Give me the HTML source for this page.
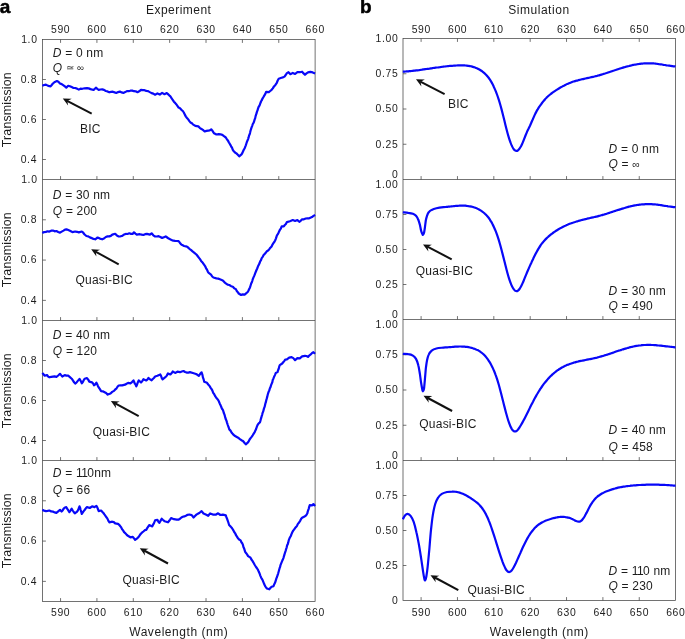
<!DOCTYPE html><html><head><meta charset="utf-8"><style>
html,body{margin:0;padding:0;background:#fff}
svg{display:block;will-change:transform}
text{font-family:"Liberation Sans",sans-serif;fill:#1c1c1c}
.tk{font-size:10.4px;letter-spacing:0.65px}
.lb{font-size:12px;letter-spacing:0.2px}
.tr{font-size:12.4px;letter-spacing:0.15px}
.ax{font-size:12px;letter-spacing:0.55px}
.bd{font-size:19px;font-weight:bold;fill:#000;stroke:#000;stroke-width:0.5px}
.it{font-style:italic}
.an{font-size:12px;letter-spacing:0.22px}
</style></head><body>
<svg width="685" height="639" viewBox="0 0 685 639">
<rect width="685" height="639" fill="#fff"/>
<g stroke="#444" stroke-width="0.75" fill="none">
<rect x="42.50" y="39.50" width="272.60" height="562.00"/>
<line x1="42.50" y1="179.50" x2="315.10" y2="179.50"/>
<line x1="42.50" y1="320.50" x2="315.10" y2="320.50"/>
<line x1="42.50" y1="460.50" x2="315.10" y2="460.50"/>
<line x1="60.55" y1="39.50" x2="60.55" y2="42.90"/>
<line x1="96.92" y1="39.50" x2="96.92" y2="42.90"/>
<line x1="133.29" y1="39.50" x2="133.29" y2="42.90"/>
<line x1="169.66" y1="39.50" x2="169.66" y2="42.90"/>
<line x1="206.03" y1="39.50" x2="206.03" y2="42.90"/>
<line x1="242.40" y1="39.50" x2="242.40" y2="42.90"/>
<line x1="278.77" y1="39.50" x2="278.77" y2="42.90"/>
<line x1="60.55" y1="179.50" x2="60.55" y2="176.10"/>
<line x1="96.92" y1="179.50" x2="96.92" y2="176.10"/>
<line x1="133.29" y1="179.50" x2="133.29" y2="176.10"/>
<line x1="169.66" y1="179.50" x2="169.66" y2="176.10"/>
<line x1="206.03" y1="179.50" x2="206.03" y2="176.10"/>
<line x1="242.40" y1="179.50" x2="242.40" y2="176.10"/>
<line x1="278.77" y1="179.50" x2="278.77" y2="176.10"/>
<line x1="60.55" y1="320.50" x2="60.55" y2="317.10"/>
<line x1="96.92" y1="320.50" x2="96.92" y2="317.10"/>
<line x1="133.29" y1="320.50" x2="133.29" y2="317.10"/>
<line x1="169.66" y1="320.50" x2="169.66" y2="317.10"/>
<line x1="206.03" y1="320.50" x2="206.03" y2="317.10"/>
<line x1="242.40" y1="320.50" x2="242.40" y2="317.10"/>
<line x1="278.77" y1="320.50" x2="278.77" y2="317.10"/>
<line x1="60.55" y1="460.50" x2="60.55" y2="457.10"/>
<line x1="96.92" y1="460.50" x2="96.92" y2="457.10"/>
<line x1="133.29" y1="460.50" x2="133.29" y2="457.10"/>
<line x1="169.66" y1="460.50" x2="169.66" y2="457.10"/>
<line x1="206.03" y1="460.50" x2="206.03" y2="457.10"/>
<line x1="242.40" y1="460.50" x2="242.40" y2="457.10"/>
<line x1="278.77" y1="460.50" x2="278.77" y2="457.10"/>
<line x1="60.55" y1="601.50" x2="60.55" y2="598.10"/>
<line x1="96.92" y1="601.50" x2="96.92" y2="598.10"/>
<line x1="133.29" y1="601.50" x2="133.29" y2="598.10"/>
<line x1="169.66" y1="601.50" x2="169.66" y2="598.10"/>
<line x1="206.03" y1="601.50" x2="206.03" y2="598.10"/>
<line x1="242.40" y1="601.50" x2="242.40" y2="598.10"/>
<line x1="278.77" y1="601.50" x2="278.77" y2="598.10"/>
</g>
<text class="tk" x="60.65" y="32.8" text-anchor="middle">590</text>
<text class="tk" x="60.65" y="616.0" text-anchor="middle">590</text>
<text class="tk" x="97.02" y="32.8" text-anchor="middle">600</text>
<text class="tk" x="97.02" y="616.0" text-anchor="middle">600</text>
<text class="tk" x="133.39" y="32.8" text-anchor="middle">610</text>
<text class="tk" x="133.39" y="616.0" text-anchor="middle">610</text>
<text class="tk" x="169.76" y="32.8" text-anchor="middle">620</text>
<text class="tk" x="169.76" y="616.0" text-anchor="middle">620</text>
<text class="tk" x="206.13" y="32.8" text-anchor="middle">630</text>
<text class="tk" x="206.13" y="616.0" text-anchor="middle">630</text>
<text class="tk" x="242.50" y="32.8" text-anchor="middle">640</text>
<text class="tk" x="242.50" y="616.0" text-anchor="middle">640</text>
<text class="tk" x="278.87" y="32.8" text-anchor="middle">650</text>
<text class="tk" x="278.87" y="616.0" text-anchor="middle">650</text>
<text class="tk" x="315.24" y="32.8" text-anchor="middle">660</text>
<text class="tk" x="315.24" y="616.0" text-anchor="middle">660</text>
<g stroke="#444" stroke-width="0.75">
<line x1="42.50" y1="79.50" x2="45.90" y2="79.50"/>
<line x1="42.50" y1="119.50" x2="45.90" y2="119.50"/>
<line x1="42.50" y1="159.50" x2="45.90" y2="159.50"/>
<line x1="42.50" y1="219.79" x2="45.90" y2="219.79"/>
<line x1="42.50" y1="260.07" x2="45.90" y2="260.07"/>
<line x1="42.50" y1="300.36" x2="45.90" y2="300.36"/>
<line x1="42.50" y1="360.50" x2="45.90" y2="360.50"/>
<line x1="42.50" y1="400.50" x2="45.90" y2="400.50"/>
<line x1="42.50" y1="440.50" x2="45.90" y2="440.50"/>
<line x1="42.50" y1="500.79" x2="45.90" y2="500.79"/>
<line x1="42.50" y1="541.07" x2="45.90" y2="541.07"/>
<line x1="42.50" y1="581.36" x2="45.90" y2="581.36"/>
</g>
<text class="tk" x="37.6" y="42.5" text-anchor="end">1.0</text>
<text class="tk" x="37.1" y="82.7" text-anchor="end">0.8</text>
<text class="tk" x="37.1" y="122.7" text-anchor="end">0.6</text>
<text class="tk" x="37.1" y="162.7" text-anchor="end">0.4</text>
<text class="tr" transform="translate(11.0,109.7) rotate(-90)" text-anchor="middle">Transmission</text>
<text class="tk" x="37.6" y="182.5" text-anchor="end">1.0</text>
<text class="tk" x="37.1" y="223.0" text-anchor="end">0.8</text>
<text class="tk" x="37.1" y="263.3" text-anchor="end">0.6</text>
<text class="tk" x="37.1" y="303.6" text-anchor="end">0.4</text>
<text class="tr" transform="translate(11.0,249.7) rotate(-90)" text-anchor="middle">Transmission</text>
<text class="tk" x="37.6" y="323.5" text-anchor="end">1.0</text>
<text class="tk" x="37.1" y="363.7" text-anchor="end">0.8</text>
<text class="tk" x="37.1" y="403.7" text-anchor="end">0.6</text>
<text class="tk" x="37.1" y="443.7" text-anchor="end">0.4</text>
<text class="tr" transform="translate(11.0,390.7) rotate(-90)" text-anchor="middle">Transmission</text>
<text class="tk" x="37.6" y="463.5" text-anchor="end">1.0</text>
<text class="tk" x="37.1" y="504.0" text-anchor="end">0.8</text>
<text class="tk" x="37.1" y="544.3" text-anchor="end">0.6</text>
<text class="tk" x="37.1" y="584.6" text-anchor="end">0.4</text>
<text class="tr" transform="translate(11.0,530.7) rotate(-90)" text-anchor="middle">Transmission</text>
<g stroke="#444" stroke-width="0.75" fill="none">
<rect x="403.00" y="38.50" width="272.60" height="562.00"/>
<line x1="403.00" y1="179.50" x2="675.60" y2="179.50"/>
<line x1="403.00" y1="319.50" x2="675.60" y2="319.50"/>
<line x1="403.00" y1="460.50" x2="675.60" y2="460.50"/>
<line x1="421.10" y1="38.50" x2="421.10" y2="41.90"/>
<line x1="457.46" y1="38.50" x2="457.46" y2="41.90"/>
<line x1="493.82" y1="38.50" x2="493.82" y2="41.90"/>
<line x1="530.18" y1="38.50" x2="530.18" y2="41.90"/>
<line x1="566.54" y1="38.50" x2="566.54" y2="41.90"/>
<line x1="602.90" y1="38.50" x2="602.90" y2="41.90"/>
<line x1="639.26" y1="38.50" x2="639.26" y2="41.90"/>
<line x1="421.10" y1="179.50" x2="421.10" y2="176.10"/>
<line x1="457.46" y1="179.50" x2="457.46" y2="176.10"/>
<line x1="493.82" y1="179.50" x2="493.82" y2="176.10"/>
<line x1="530.18" y1="179.50" x2="530.18" y2="176.10"/>
<line x1="566.54" y1="179.50" x2="566.54" y2="176.10"/>
<line x1="602.90" y1="179.50" x2="602.90" y2="176.10"/>
<line x1="639.26" y1="179.50" x2="639.26" y2="176.10"/>
<line x1="421.10" y1="319.50" x2="421.10" y2="316.10"/>
<line x1="457.46" y1="319.50" x2="457.46" y2="316.10"/>
<line x1="493.82" y1="319.50" x2="493.82" y2="316.10"/>
<line x1="530.18" y1="319.50" x2="530.18" y2="316.10"/>
<line x1="566.54" y1="319.50" x2="566.54" y2="316.10"/>
<line x1="602.90" y1="319.50" x2="602.90" y2="316.10"/>
<line x1="639.26" y1="319.50" x2="639.26" y2="316.10"/>
<line x1="421.10" y1="460.50" x2="421.10" y2="457.10"/>
<line x1="457.46" y1="460.50" x2="457.46" y2="457.10"/>
<line x1="493.82" y1="460.50" x2="493.82" y2="457.10"/>
<line x1="530.18" y1="460.50" x2="530.18" y2="457.10"/>
<line x1="566.54" y1="460.50" x2="566.54" y2="457.10"/>
<line x1="602.90" y1="460.50" x2="602.90" y2="457.10"/>
<line x1="639.26" y1="460.50" x2="639.26" y2="457.10"/>
<line x1="421.10" y1="600.50" x2="421.10" y2="597.10"/>
<line x1="457.46" y1="600.50" x2="457.46" y2="597.10"/>
<line x1="493.82" y1="600.50" x2="493.82" y2="597.10"/>
<line x1="530.18" y1="600.50" x2="530.18" y2="597.10"/>
<line x1="566.54" y1="600.50" x2="566.54" y2="597.10"/>
<line x1="602.90" y1="600.50" x2="602.90" y2="597.10"/>
<line x1="639.26" y1="600.50" x2="639.26" y2="597.10"/>
</g>
<text class="tk" x="421.30" y="32.8" text-anchor="middle">590</text>
<text class="tk" x="421.30" y="616.0" text-anchor="middle">590</text>
<text class="tk" x="457.66" y="32.8" text-anchor="middle">600</text>
<text class="tk" x="457.66" y="616.0" text-anchor="middle">600</text>
<text class="tk" x="494.02" y="32.8" text-anchor="middle">610</text>
<text class="tk" x="494.02" y="616.0" text-anchor="middle">610</text>
<text class="tk" x="530.38" y="32.8" text-anchor="middle">620</text>
<text class="tk" x="530.38" y="616.0" text-anchor="middle">620</text>
<text class="tk" x="566.74" y="32.8" text-anchor="middle">630</text>
<text class="tk" x="566.74" y="616.0" text-anchor="middle">630</text>
<text class="tk" x="603.10" y="32.8" text-anchor="middle">640</text>
<text class="tk" x="603.10" y="616.0" text-anchor="middle">640</text>
<text class="tk" x="639.46" y="32.8" text-anchor="middle">650</text>
<text class="tk" x="639.46" y="616.0" text-anchor="middle">650</text>
<text class="tk" x="675.82" y="32.8" text-anchor="middle">660</text>
<text class="tk" x="675.82" y="616.0" text-anchor="middle">660</text>
<g stroke="#444" stroke-width="0.75">
<line x1="403.00" y1="73.75" x2="406.40" y2="73.75"/>
<line x1="403.00" y1="109.00" x2="406.40" y2="109.00"/>
<line x1="403.00" y1="144.25" x2="406.40" y2="144.25"/>
<line x1="403.00" y1="214.50" x2="406.40" y2="214.50"/>
<line x1="403.00" y1="249.50" x2="406.40" y2="249.50"/>
<line x1="403.00" y1="284.50" x2="406.40" y2="284.50"/>
<line x1="403.00" y1="354.75" x2="406.40" y2="354.75"/>
<line x1="403.00" y1="390.00" x2="406.40" y2="390.00"/>
<line x1="403.00" y1="425.25" x2="406.40" y2="425.25"/>
<line x1="403.00" y1="495.50" x2="406.40" y2="495.50"/>
<line x1="403.00" y1="530.50" x2="406.40" y2="530.50"/>
<line x1="403.00" y1="565.50" x2="406.40" y2="565.50"/>
</g>
<text class="tk" x="398.4" y="41.9" text-anchor="end">1.00</text>
<text class="tk" x="398.4" y="77.0" text-anchor="end">0.75</text>
<text class="tk" x="398.4" y="112.3" text-anchor="end">0.50</text>
<text class="tk" x="398.4" y="147.6" text-anchor="end">0.25</text>
<text class="tk" x="398.4" y="177.5" text-anchor="end">0</text>
<text class="tk" x="398.4" y="187.5" text-anchor="end">1.00</text>
<text class="tk" x="398.4" y="217.8" text-anchor="end">0.75</text>
<text class="tk" x="398.4" y="252.8" text-anchor="end">0.50</text>
<text class="tk" x="398.4" y="287.8" text-anchor="end">0.25</text>
<text class="tk" x="398.4" y="317.5" text-anchor="end">0</text>
<text class="tk" x="398.4" y="327.5" text-anchor="end">1.00</text>
<text class="tk" x="398.4" y="358.1" text-anchor="end">0.75</text>
<text class="tk" x="398.4" y="393.3" text-anchor="end">0.50</text>
<text class="tk" x="398.4" y="428.6" text-anchor="end">0.25</text>
<text class="tk" x="398.4" y="458.5" text-anchor="end">0</text>
<text class="tk" x="398.4" y="468.5" text-anchor="end">1.00</text>
<text class="tk" x="398.4" y="498.8" text-anchor="end">0.75</text>
<text class="tk" x="398.4" y="533.8" text-anchor="end">0.50</text>
<text class="tk" x="398.4" y="568.8" text-anchor="end">0.25</text>
<text class="tk" x="398.4" y="603.9" text-anchor="end">0</text>
<text class="bd" x="-0.3" y="13.1">a</text>
<text class="bd" x="360.0" y="13.1">b</text>
<text class="ax" x="178.7" y="14.4" text-anchor="middle" style="letter-spacing:0.45px">Experiment</text>
<text class="ax" x="538.9" y="14.4" text-anchor="middle" style="letter-spacing:0.55px">Simulation</text>
<text class="ax" x="178.8" y="635.6" text-anchor="middle">Wavelength (nm)</text>
<text class="ax" x="539.3" y="635.6" text-anchor="middle">Wavelength (nm)</text>
<path d="M42.3,85.7 L44.1,85.0 L45.9,84.6 L48.2,85.9 L50.6,86.3 L51.7,85.0 L52.9,83.5 L54.9,81.9 L56.9,81.0 L58.4,81.8 L60.0,83.5 L61.7,84.1 L63.5,85.3 L64.9,86.4 L66.3,87.6 L68.2,85.8 L69.9,86.2 L71.7,87.1 L73.5,88.0 L75.2,88.0 L77.0,88.6 L78.8,89.6 L80.5,88.7 L82.3,88.8 L84.6,88.3 L87.0,88.2 L88.7,88.4 L90.5,89.1 L93.6,90.0 L95.9,87.7 L97.3,88.9 L98.7,89.9 L100.5,89.5 L102.2,89.4 L104.0,89.9 L105.8,91.0 L107.5,91.4 L109.3,92.3 L111.1,91.9 L112.8,91.7 L114.6,92.4 L116.3,92.9 L118.1,92.1 L119.9,91.6 L121.6,92.4 L123.4,92.9 L125.2,92.1 L126.9,91.1 L128.7,91.2 L130.4,90.7 L132.2,90.6 L134.0,91.2 L135.7,91.3 L137.5,92.2 L139.2,91.3 L141.0,89.8 L142.8,90.1 L144.5,90.2 L146.3,90.9 L148.1,91.1 L149.8,92.1 L151.6,93.1 L153.3,93.6 L155.1,94.7 L157.4,93.4 L159.8,94.6 L162.1,92.9 L164.5,94.2 L166.8,93.1 L168.0,94.1 L169.2,95.3 L170.4,96.3 L171.5,98.2 L172.7,99.8 L173.9,101.7 L175.1,102.9 L176.2,104.2 L177.4,105.8 L178.6,107.6 L180.0,108.3 L181.4,109.8 L182.8,111.0 L183.8,112.5 L184.7,114.4 L185.9,116.6 L187.0,118.0 L188.2,119.4 L189.4,121.1 L190.6,122.6 L191.7,123.0 L192.9,124.4 L195.3,125.9 L198.3,126.4 L199.7,127.8 L201.1,128.8 L202.9,129.9 L204.7,131.5 L206.4,130.9 L208.2,130.6 L209.7,130.4 L211.2,129.3 L212.2,130.4 L213.1,131.8 L214.1,133.3 L216.4,134.5 L218.8,134.1 L220.5,134.3 L222.3,134.9 L224.0,136.2 L225.8,137.5 L227.0,139.3 L228.2,141.0 L228.9,142.5 L229.7,143.7 L230.5,145.1 L231.3,146.7 L232.0,147.6 L232.8,149.9 L233.6,151.0 L235.0,152.5 L236.4,153.4 L237.8,154.8 L239.2,156.3 L241.5,154.4 L242.3,153.1 L243.1,151.2 L243.8,149.7 L244.6,148.5 L245.2,146.8 L245.8,145.3 L246.4,143.5 L246.9,141.9 L247.5,140.5 L248.1,139.1 L248.6,137.4 L249.1,135.4 L249.6,134.5 L250.1,132.6 L250.6,130.5 L251.1,128.9 L251.6,127.4 L252.2,125.8 L252.8,124.0 L253.4,123.1 L254.0,121.7 L254.6,119.6 L255.2,118.1 L255.6,116.1 L256.1,114.6 L256.6,113.2 L257.0,111.6 L257.5,110.6 L258.0,108.6 L258.8,106.5 L259.5,105.6 L260.3,103.4 L261.0,101.5 L261.8,100.2 L262.6,98.3 L263.3,97.3 L264.1,95.9 L265.2,94.1 L266.2,91.8 L268.8,92.2 L270.2,91.0 L271.6,89.8 L272.8,88.4 L274.0,86.4 L275.4,84.9 L276.8,82.8 L277.7,80.5 L278.7,78.7 L281.5,77.8 L283.0,77.4 L284.5,76.6 L285.7,75.0 L286.9,73.1 L288.5,72.2 L290.4,74.2 L292.8,72.9 L295.1,74.0 L297.4,72.2 L299.8,72.2 L302.1,71.7 L303.6,73.4 L305.0,74.8 L306.5,73.4 L308.0,72.4 L310.4,71.9 L312.7,72.4 L315.1,73.4" fill="none" stroke="#0808f8" stroke-width="2.2" stroke-linejoin="round" stroke-linecap="butt"/>
<path d="M42.3,233.0 L44.1,232.1 L45.9,231.9 L47.6,231.3 L49.4,231.6 L51.2,230.7 L52.9,230.5 L54.7,231.3 L56.4,231.0 L58.2,232.0 L60.0,232.7 L61.7,231.6 L63.5,230.6 L65.0,229.6 L66.5,229.3 L69.4,230.5 L70.9,231.2 L72.4,232.1 L75.2,231.5 L77.0,231.8 L78.8,232.4 L81.8,231.5 L83.2,232.7 L84.6,234.5 L86.4,236.0 L88.2,236.4 L89.9,237.4 L91.7,238.1 L93.4,238.9 L95.2,239.3 L97.6,237.5 L99.9,238.6 L102.2,239.3 L104.0,238.5 L105.8,237.0 L107.5,236.4 L109.3,236.4 L110.8,235.9 L112.3,234.6 L115.2,233.8 L116.9,235.6 L118.7,236.5 L120.5,236.3 L122.2,235.9 L124.0,234.6 L125.7,233.9 L127.5,234.0 L129.3,233.3 L131.0,233.9 L132.8,233.8 L134.0,232.3 L135.4,233.6 L136.8,234.7 L139.8,234.2 L141.6,234.6 L143.4,235.0 L145.1,234.2 L146.9,233.9 L149.9,234.6 L151.6,233.3 L153.3,235.3 L155.1,236.5 L156.9,236.5 L158.6,236.2 L160.4,237.0 L162.1,238.0 L163.9,237.2 L165.7,236.4 L167.2,237.5 L168.7,238.6 L171.5,239.9 L173.3,240.7 L175.1,240.9 L176.8,241.0 L178.6,241.1 L179.8,242.7 L181.1,244.3 L182.3,245.1 L184.1,246.0 L185.9,246.3 L187.6,247.1 L189.4,248.8 L191.2,250.1 L192.9,251.7 L194.7,253.1 L196.4,254.5 L197.6,256.0 L198.8,257.6 L200.0,259.2 L201.1,260.9 L202.3,262.2 L203.5,263.9 L204.4,265.2 L205.4,266.7 L206.3,268.7 L207.1,269.9 L207.9,271.8 L208.7,272.9 L211.0,274.6 L212.2,276.5 L213.4,277.5 L216.4,278.4 L218.2,278.6 L219.9,279.2 L222.8,280.4 L224.3,282.1 L225.8,283.4 L227.6,284.7 L229.3,285.0 L231.1,286.2 L232.9,286.7 L234.4,288.4 L235.9,289.2 L236.8,291.1 L237.8,292.2 L238.7,293.5 L241.1,295.0 L242.8,294.4 L244.6,294.6 L246.1,293.3 L247.7,292.0 L248.4,290.7 L249.2,289.0 L250.0,287.4 L250.6,285.5 L251.1,283.8 L251.7,282.6 L252.3,280.8 L252.8,279.1 L253.5,277.4 L254.2,275.9 L254.9,274.1 L255.6,272.2 L256.4,270.3 L257.2,268.5 L257.9,266.6 L258.7,265.1 L259.5,263.3 L260.2,261.3 L261.0,260.1 L261.7,258.1 L262.7,256.9 L263.6,255.0 L264.6,254.1 L265.7,252.8 L266.9,251.2 L268.1,250.5 L269.3,249.2 L270.4,247.7 L271.6,246.4 L272.5,244.6 L273.4,243.2 L274.3,242.0 L275.1,240.5 L275.9,238.6 L276.7,236.1 L277.5,234.6 L278.3,233.4 L279.0,231.7 L279.8,230.0 L280.8,228.6 L281.7,226.3 L283.8,226.3 L284.8,225.0 L285.9,224.0 L286.9,222.1 L289.9,221.3 L292.8,220.1 L295.1,221.0 L297.4,220.1 L299.3,221.8 L300.7,220.8 L302.1,219.3 L303.9,219.3 L305.7,218.5 L307.4,218.3 L309.2,218.3 L312.0,217.1 L313.5,215.9 L315.1,215.0" fill="none" stroke="#0808f8" stroke-width="2.2" stroke-linejoin="round" stroke-linecap="butt"/>
<path d="M42.3,373.0 L43.5,374.3 L44.7,375.7 L47.0,375.0 L48.2,376.6 L49.4,377.3 L51.2,376.9 L52.9,376.6 L54.7,376.3 L56.4,377.0 L58.2,375.5 L60.0,373.8 L61.1,375.1 L62.3,376.5 L64.7,375.1 L66.4,375.6 L68.2,375.7 L69.9,377.1 L71.7,378.7 L72.9,380.4 L74.1,382.3 L75.2,383.5 L76.4,382.6 L77.6,381.1 L79.5,378.9 L80.2,380.0 L81.0,381.6 L81.8,383.3 L82.8,382.0 L83.7,380.2 L84.6,378.7 L87.0,378.1 L88.2,379.6 L89.3,381.6 L92.1,382.4 L93.1,383.5 L94.0,385.3 L95.2,384.3 L96.4,382.7 L97.2,384.3 L97.9,385.9 L98.7,387.4 L99.9,389.2 L101.1,391.1 L102.8,391.3 L104.6,392.2 L106.1,393.0 L107.7,394.6 L110.5,393.5 L112.2,391.9 L114.0,390.9 L115.2,389.5 L116.3,388.7 L117.5,386.7 L118.7,385.5 L120.5,385.4 L122.2,385.3 L125.0,384.7 L126.6,383.7 L128.1,382.9 L130.4,383.4 L132.0,382.1 L133.5,380.4 L134.2,382.0 L134.9,383.8 L135.6,384.5 L136.3,386.4 L137.1,384.5 L137.9,382.1 L138.7,380.4 L141.0,382.5 L142.2,381.3 L143.4,379.2 L146.2,380.5 L147.3,379.7 L148.5,378.0 L150.1,379.4 L151.6,380.3 L152.8,379.0 L153.9,378.0 L155.1,376.5 L157.4,375.8 L160.3,374.5 L161.1,376.0 L161.8,378.1 L162.6,379.3 L164.1,378.1 L165.7,376.9 L166.8,375.6 L168.0,373.4 L170.4,374.5 L171.5,373.3 L172.7,371.5 L175.1,372.9 L177.4,371.7 L180.0,372.2 L181.8,371.5 L183.5,371.0 L185.1,372.0 L186.6,372.6 L188.2,372.7 L189.9,372.1 L192.9,373.0 L196.0,374.0 L197.4,374.8 L198.8,375.8 L200.2,373.8 L201.6,372.3 L202.0,373.7 L202.5,375.1 L202.9,377.4 L203.3,378.4 L203.8,380.0 L204.2,381.7 L207.0,382.8 L208.2,384.5 L209.4,385.7 L210.5,387.6 L211.4,388.9 L212.3,390.4 L213.2,392.9 L214.1,394.0 L215.2,396.2 L216.4,398.0 L217.6,399.3 L218.4,400.4 L219.1,402.0 L219.9,403.9 L220.6,405.3 L221.3,407.0 L222.0,408.8 L222.8,409.8 L223.3,411.1 L223.8,413.0 L224.3,414.2 L224.8,415.7 L225.3,417.7 L225.8,419.3 L226.4,420.5 L227.0,422.6 L227.6,424.5 L228.2,426.2 L228.7,427.5 L229.3,429.4 L230.5,430.6 L231.7,432.7 L232.9,434.1 L234.6,435.8 L236.4,436.8 L238.1,437.7 L239.9,439.1 L241.4,440.2 L243.0,441.0 L244.4,442.8 L245.8,444.3 L247.2,443.2 L248.6,441.5 L249.6,439.5 L250.6,438.1 L251.6,436.8 L252.7,435.3 L253.7,433.6 L254.7,432.1 L255.4,430.4 L256.1,429.0 L256.8,426.9 L257.5,425.2 L258.7,423.3 L259.9,422.4 L260.3,421.1 L260.8,419.2 L261.3,417.7 L261.7,416.1 L262.2,414.6 L262.7,412.6 L263.2,411.5 L263.6,409.9 L264.1,408.1 L264.6,406.9 L265.0,405.2 L265.5,403.1 L265.9,402.0 L266.3,400.1 L266.8,398.4 L267.2,396.9 L267.7,394.7 L268.1,393.4 L268.7,391.6 L269.3,390.4 L269.9,388.2 L270.5,387.1 L271.1,385.2 L271.7,383.6 L272.3,382.2 L272.8,379.8 L273.4,378.7 L274.0,377.0 L274.9,375.1 L275.8,372.9 L277.5,372.1 L278.1,370.2 L278.7,368.8 L279.2,366.7 L279.8,365.1 L282.2,363.5 L283.2,362.3 L284.2,361.1 L285.2,359.7 L286.9,359.4 L289.2,357.6 L291.6,357.1 L293.3,358.1 L295.1,360.2 L297.4,358.2 L299.8,358.3 L302.1,356.4 L305.0,355.9 L306.5,356.0 L308.0,356.9 L309.2,355.6 L310.4,354.7 L311.9,353.2 L313.4,352.2 L315.1,353.8" fill="none" stroke="#0808f8" stroke-width="2.2" stroke-linejoin="round" stroke-linecap="butt"/>
<path d="M42.3,509.9 L44.1,510.6 L45.9,511.1 L47.6,510.9 L49.4,510.5 L51.2,511.4 L52.9,511.6 L54.7,512.4 L56.4,512.9 L58.2,511.4 L60.0,509.9 L61.6,511.5 L62.6,510.5 L63.5,508.9 L64.9,507.5 L66.3,507.2 L67.3,508.9 L68.3,510.4 L69.4,512.2 L70.5,510.6 L71.7,508.7 L72.7,510.5 L73.7,512.0 L74.8,513.3 L77.1,511.6 L77.9,510.3 L78.7,508.5 L79.5,506.4 L80.1,507.8 L80.6,509.7 L81.2,511.7 L81.8,514.0 L82.8,512.4 L83.7,511.1 L84.6,510.0 L85.8,508.3 L87.0,507.1 L89.8,508.0 L92.1,506.3 L94.5,507.1 L96.4,505.8 L97.2,507.2 L97.9,509.0 L98.7,511.1 L101.1,510.5 L102.2,511.8 L103.4,513.0 L104.4,514.4 L105.3,515.6 L106.2,517.0 L107.3,518.4 L108.3,520.6 L109.3,522.3 L112.3,521.7 L113.8,522.1 L115.2,523.4 L118.0,523.9 L119.5,525.2 L121.0,527.1 L122.1,529.2 L123.1,530.4 L124.1,532.2 L125.5,533.4 L126.9,535.0 L128.7,536.3 L130.4,537.3 L132.8,536.8 L134.0,538.4 L135.1,539.9 L137.5,538.1 L138.5,537.0 L139.5,535.7 L140.5,534.1 L141.9,532.7 L143.4,531.5 L144.8,530.2 L146.2,529.9 L147.2,528.1 L148.2,526.6 L149.2,525.1 L150.8,525.7 L152.3,526.4 L153.0,524.8 L153.7,523.7 L154.4,522.1 L155.1,520.4 L157.4,519.8 L158.4,521.7 L159.3,522.8 L160.5,520.9 L161.7,518.7 L163.1,520.0 L164.5,521.2 L166.3,521.7 L168.0,522.3 L169.0,521.0 L170.1,519.6 L171.1,518.1 L173.9,519.2 L176.7,519.7 L178.4,519.7 L180.0,518.8 L181.4,517.5 L182.8,516.8 L184.3,516.4 L185.9,515.7 L187.6,514.8 L189.4,514.5 L191.7,515.1 L193.6,517.5 L195.0,516.0 L196.4,514.6 L197.9,513.7 L199.3,513.0 L201.6,511.1 L203.5,513.5 L206.3,514.7 L208.2,515.8 L210.1,513.4 L212.9,514.6 L215.7,514.7 L218.1,513.3 L220.4,515.0 L222.8,514.6 L225.8,515.4 L226.4,517.2 L227.1,518.8 L227.7,520.6 L228.2,522.0 L228.8,523.9 L229.3,525.3 L230.7,526.6 L232.1,528.3 L233.2,530.1 L234.2,532.0 L235.2,533.3 L236.0,535.2 L236.8,536.4 L237.6,537.7 L239.1,539.5 L240.6,540.4 L241.4,542.2 L242.2,543.2 L243.0,545.2 L243.5,547.3 L244.1,548.4 L244.7,550.3 L245.3,552.1 L246.2,553.2 L247.2,554.6 L248.1,556.1 L250.5,557.7 L251.4,559.5 L252.3,560.7 L253.3,562.3 L254.5,564.5 L255.6,566.3 L256.8,568.0 L258.0,569.8 L258.8,571.8 L259.6,573.5 L260.3,575.6 L261.1,577.4 L261.9,578.9 L262.7,580.3 L263.5,582.3 L264.3,584.3 L265.0,585.9 L266.0,587.3 L266.9,588.5 L269.3,589.3 L270.4,587.8 L271.6,586.8 L273.5,586.2 L274.3,584.2 L275.1,582.6 L275.8,580.4 L276.4,578.4 L277.0,577.0 L277.6,575.1 L278.2,573.3 L278.7,571.5 L279.1,570.0 L279.6,568.2 L280.1,566.9 L280.5,565.1 L281.2,563.3 L281.9,561.6 L282.7,559.8 L283.4,558.1 L283.8,556.7 L284.3,555.2 L284.8,553.3 L285.2,552.1 L285.7,550.6 L286.2,548.8 L286.7,547.3 L287.2,545.1 L287.7,544.3 L288.2,542.7 L288.7,540.4 L289.2,539.2 L290.0,537.3 L290.8,536.0 L291.5,534.1 L292.3,532.2 L293.2,530.6 L294.2,529.3 L295.1,528.1 L296.0,527.1 L297.0,525.8 L297.9,523.9 L299.1,522.5 L300.3,520.6 L301.2,518.8 L302.1,517.7 L305.0,516.2 L306.1,515.3 L307.3,513.5 L307.8,511.3 L308.3,509.9 L308.7,508.8 L309.2,506.9 L309.7,505.2 L312.0,505.3 L313.4,504.1 L315.1,506.0" fill="none" stroke="#0808f8" stroke-width="2.2" stroke-linejoin="round" stroke-linecap="butt"/>
<path d="M402.8,71.6 C403.0,71.6 403.6,71.6 404.0,71.6 C404.4,71.6 405.0,71.5 405.5,71.5 C406.0,71.5 406.5,71.4 407.0,71.4 C407.5,71.3 408.0,71.3 408.5,71.3 C409.0,71.2 409.5,71.2 410.0,71.1 C410.5,71.1 411.0,71.0 411.5,71.0 C412.0,70.9 412.5,70.9 413.0,70.8 C413.5,70.7 414.0,70.7 414.5,70.6 C415.0,70.6 415.5,70.5 416.0,70.4 C416.5,70.4 417.0,70.3 417.5,70.3 C418.0,70.2 418.5,70.1 419.0,70.1 C419.5,70.0 420.0,69.9 420.5,69.9 C421.0,69.8 421.5,69.7 422.0,69.7 C422.5,69.6 423.0,69.5 423.5,69.4 C424.0,69.4 424.5,69.3 425.0,69.2 C425.5,69.1 426.0,69.1 426.5,69.0 C427.0,68.9 427.5,68.9 428.0,68.8 C428.5,68.7 429.0,68.6 429.5,68.6 C430.0,68.5 430.5,68.4 431.0,68.3 C431.5,68.3 432.0,68.2 432.5,68.1 C433.0,68.0 433.5,68.0 434.0,67.9 C434.5,67.8 435.0,67.8 435.5,67.7 C436.0,67.6 436.5,67.5 437.0,67.5 C437.5,67.4 438.0,67.3 438.5,67.3 C439.0,67.2 439.5,67.1 440.0,67.1 C440.5,67.0 441.0,66.9 441.5,66.9 C442.0,66.8 442.5,66.7 443.0,66.7 C443.5,66.6 444.0,66.6 444.5,66.5 C445.0,66.5 445.5,66.4 446.0,66.3 C446.5,66.3 447.0,66.2 447.5,66.2 C448.0,66.1 448.5,66.1 449.0,66.0 C449.5,66.0 450.0,65.9 450.5,65.9 C451.0,65.9 451.5,65.8 452.0,65.8 C452.5,65.7 453.0,65.7 453.5,65.7 C454.0,65.6 454.5,65.6 455.0,65.6 C455.5,65.5 456.0,65.5 456.5,65.5 C457.0,65.5 457.5,65.5 458.0,65.4 C458.5,65.4 459.0,65.4 459.5,65.4 C460.0,65.4 460.5,65.4 461.0,65.4 C461.5,65.4 462.0,65.4 462.5,65.4 C463.0,65.4 463.5,65.4 464.0,65.4 C464.5,65.4 465.0,65.5 465.5,65.5 C466.0,65.5 466.5,65.6 467.0,65.6 C467.5,65.7 468.0,65.8 468.5,65.8 C469.0,65.9 469.5,66.0 470.0,66.1 C470.5,66.2 471.0,66.3 471.5,66.4 C472.0,66.5 472.5,66.7 473.0,66.8 C473.5,66.9 474.0,67.1 474.5,67.3 C475.0,67.5 475.5,67.7 476.0,67.9 C476.5,68.1 477.0,68.3 477.5,68.5 C478.0,68.8 478.5,69.0 479.0,69.3 C479.5,69.6 480.0,69.9 480.5,70.2 C481.0,70.5 481.5,70.8 482.0,71.2 C482.5,71.6 483.0,71.9 483.5,72.4 C484.0,72.8 484.5,73.2 485.0,73.7 C485.5,74.2 486.0,74.7 486.5,75.2 C487.0,75.8 487.5,76.4 488.0,77.0 C488.5,77.6 489.0,78.3 489.5,79.0 C490.0,79.8 490.5,80.6 491.0,81.4 C491.5,82.2 492.0,83.1 492.5,84.1 C493.0,85.1 493.5,86.1 494.0,87.2 C494.5,88.2 495.0,89.4 495.5,90.6 C496.0,91.9 496.5,93.1 497.0,94.5 C497.5,95.9 498.0,97.4 498.5,98.9 C499.0,100.4 499.5,102.0 500.0,103.8 C500.5,105.5 501.0,107.3 501.5,109.1 C502.0,111.0 502.5,113.0 503.0,115.0 C503.5,117.0 504.0,119.1 504.5,121.1 C505.0,123.1 505.5,125.2 506.0,127.2 C506.5,129.2 507.0,131.1 507.5,133.0 C508.0,134.8 508.5,136.5 509.0,138.1 C509.5,139.7 510.0,141.2 510.5,142.5 C511.0,143.9 511.5,145.1 512.0,146.1 C512.5,147.2 513.0,148.1 513.5,148.8 C514.0,149.5 514.5,150.1 515.0,150.4 C515.5,150.8 516.0,150.9 516.5,150.9 C517.0,150.9 517.5,150.7 518.0,150.3 C518.5,149.9 519.0,149.4 519.5,148.7 C520.0,148.0 520.5,147.2 521.0,146.3 C521.5,145.3 522.0,144.3 522.5,143.1 C523.0,142.0 523.5,140.7 524.0,139.4 C524.5,138.1 525.0,136.8 525.5,135.5 C526.0,134.3 526.5,133.1 527.0,131.9 C527.5,130.8 528.0,129.8 528.5,128.8 C529.0,127.7 529.5,126.7 530.0,125.7 C530.5,124.6 531.0,123.4 531.5,122.3 C532.0,121.1 532.5,120.0 533.0,118.8 C533.5,117.7 534.0,116.5 534.5,115.4 C535.0,114.4 535.5,113.3 536.0,112.4 C536.5,111.4 537.0,110.5 537.5,109.7 C538.0,108.8 538.5,108.0 539.0,107.2 C539.5,106.5 540.0,105.8 540.5,105.1 C541.0,104.4 541.5,103.7 542.0,103.0 C542.5,102.4 543.0,101.8 543.5,101.1 C544.0,100.5 544.5,99.9 545.0,99.4 C545.5,98.8 546.0,98.3 546.5,97.8 C547.0,97.2 547.5,96.8 548.0,96.3 C548.5,95.8 549.0,95.4 549.5,95.0 C550.0,94.6 550.5,94.2 551.0,93.8 C551.5,93.4 552.0,93.1 552.5,92.7 C553.0,92.3 553.5,92.0 554.0,91.6 C554.5,91.3 555.0,90.9 555.5,90.6 C556.0,90.3 556.5,89.9 557.0,89.6 C557.5,89.3 558.0,89.0 558.5,88.7 C559.0,88.4 559.5,88.1 560.0,87.8 C560.5,87.5 561.0,87.2 561.5,86.9 C562.0,86.7 562.5,86.4 563.0,86.1 C563.5,85.9 564.0,85.6 564.5,85.4 C565.0,85.1 565.5,84.9 566.0,84.6 C566.5,84.4 567.0,84.2 567.5,83.9 C568.0,83.7 568.5,83.5 569.0,83.3 C569.5,83.1 570.0,82.9 570.5,82.7 C571.0,82.5 571.5,82.3 572.0,82.1 C572.5,82.0 573.0,81.8 573.5,81.6 C574.0,81.4 574.5,81.3 575.0,81.1 C575.5,81.0 576.0,80.8 576.5,80.7 C577.0,80.5 577.5,80.4 578.0,80.3 C578.5,80.1 579.0,80.0 579.5,79.9 C580.0,79.7 580.5,79.6 581.0,79.5 C581.5,79.4 582.0,79.3 582.5,79.2 C583.0,79.0 583.5,78.9 584.0,78.8 C584.5,78.7 585.0,78.6 585.5,78.5 C586.0,78.4 586.5,78.3 587.0,78.2 C587.5,78.1 588.0,78.0 588.5,77.9 C589.0,77.7 589.5,77.6 590.0,77.5 C590.5,77.4 591.0,77.3 591.5,77.2 C592.0,77.1 592.5,77.0 593.0,76.9 C593.5,76.7 594.0,76.6 594.5,76.5 C595.0,76.4 595.5,76.2 596.0,76.1 C596.5,76.0 597.0,75.9 597.5,75.7 C598.0,75.6 598.5,75.4 599.0,75.3 C599.5,75.2 600.0,75.0 600.5,74.9 C601.0,74.7 601.5,74.6 602.0,74.4 C602.5,74.3 603.0,74.1 603.5,73.9 C604.0,73.8 604.5,73.6 605.0,73.5 C605.5,73.3 606.0,73.1 606.5,73.0 C607.0,72.8 607.5,72.7 608.0,72.5 C608.5,72.3 609.0,72.2 609.5,72.0 C610.0,71.8 610.5,71.7 611.0,71.5 C611.5,71.3 612.0,71.2 612.5,71.0 C613.0,70.8 613.5,70.6 614.0,70.5 C614.5,70.3 615.0,70.1 615.5,70.0 C616.0,69.8 616.5,69.7 617.0,69.5 C617.5,69.3 618.0,69.2 618.5,69.0 C619.0,68.8 619.5,68.7 620.0,68.5 C620.5,68.4 621.0,68.2 621.5,68.1 C622.0,67.9 622.5,67.8 623.0,67.6 C623.5,67.5 624.0,67.3 624.5,67.2 C625.0,67.0 625.5,66.9 626.0,66.7 C626.5,66.6 627.0,66.5 627.5,66.3 C628.0,66.2 628.5,66.1 629.0,66.0 C629.5,65.8 630.0,65.7 630.5,65.6 C631.0,65.5 631.5,65.4 632.0,65.2 C632.5,65.1 633.0,65.0 633.5,64.9 C634.0,64.8 634.5,64.7 635.0,64.6 C635.5,64.5 636.0,64.4 636.5,64.4 C637.0,64.3 637.5,64.2 638.0,64.1 C638.5,64.0 639.0,64.0 639.5,63.9 C640.0,63.8 640.5,63.8 641.0,63.7 C641.5,63.7 642.0,63.6 642.5,63.6 C643.0,63.5 643.5,63.5 644.0,63.4 C644.5,63.4 645.0,63.4 645.5,63.3 C646.0,63.3 646.5,63.3 647.0,63.3 C647.5,63.3 648.0,63.3 648.5,63.3 C649.0,63.3 649.5,63.3 650.0,63.3 C650.5,63.3 651.0,63.3 651.5,63.3 C652.0,63.3 652.5,63.4 653.0,63.4 C653.5,63.4 654.0,63.5 654.5,63.5 C655.0,63.6 655.5,63.6 656.0,63.7 C656.5,63.7 657.0,63.8 657.5,63.9 C658.0,63.9 658.5,64.0 659.0,64.1 C659.5,64.1 660.0,64.2 660.5,64.3 C661.0,64.4 661.5,64.4 662.0,64.5 C662.5,64.6 663.0,64.7 663.5,64.8 C664.0,64.8 664.5,64.9 665.0,65.0 C665.5,65.1 666.0,65.2 666.5,65.3 C667.0,65.3 667.5,65.4 668.0,65.5 C668.5,65.6 669.0,65.7 669.5,65.7 C670.0,65.8 670.5,65.9 671.0,65.9 C671.5,66.0 672.0,66.1 672.5,66.1 C673.0,66.2 673.5,66.3 674.0,66.3 C674.5,66.4 675.2,66.4 675.5,66.5" fill="none" stroke="#0808f8" stroke-width="2.2" stroke-linejoin="round"/>
<path d="M402.8,212.3 C403.7,212.4 406.5,212.5 408.2,212.8 C409.9,213.0 411.6,213.2 412.9,213.7 C414.2,214.2 415.1,214.8 416.0,215.8 C416.9,216.8 417.7,218.2 418.3,219.8 C419.0,221.4 419.5,223.4 420.0,225.2 C420.4,227.0 420.7,229.2 421.1,230.6 C421.5,232.1 422.0,233.2 422.3,233.9 C422.6,234.6 422.7,235.0 423.0,234.8 C423.3,234.7 423.6,234.2 424.0,233.0 C424.3,231.7 424.6,229.6 424.9,227.6 C425.2,225.5 425.5,222.5 425.8,220.5 C426.2,218.5 426.5,217.2 427.0,215.8 C427.5,214.4 427.9,213.3 428.7,212.3 C429.4,211.3 430.4,210.6 431.7,209.9 C433.0,209.3 434.5,208.8 436.4,208.3 C438.4,207.8 441.9,207.3 443.5,207.1 C445.1,206.9 445.3,206.9 446.0,206.9 C446.7,206.8 447.0,206.8 447.5,206.8 C448.0,206.7 448.5,206.7 449.0,206.6 C449.5,206.6 450.0,206.5 450.5,206.5 C451.0,206.4 451.5,206.4 452.0,206.3 C452.5,206.3 453.0,206.2 453.5,206.2 C454.0,206.1 454.5,206.1 455.0,206.0 C455.5,206.0 456.0,205.9 456.5,205.9 C457.0,205.9 457.5,205.8 458.0,205.8 C458.5,205.8 459.0,205.7 459.5,205.7 C460.0,205.7 460.5,205.7 461.0,205.6 C461.5,205.6 462.0,205.6 462.5,205.6 C463.0,205.6 463.5,205.6 464.0,205.7 C464.5,205.7 465.0,205.7 465.5,205.7 C466.0,205.8 466.5,205.8 467.0,205.9 C467.5,205.9 468.0,206.0 468.5,206.1 C469.0,206.1 469.5,206.2 470.0,206.3 C470.5,206.4 471.0,206.5 471.5,206.6 C472.0,206.8 472.5,206.9 473.0,207.0 C473.5,207.2 474.0,207.3 474.5,207.5 C475.0,207.7 475.5,207.9 476.0,208.1 C476.5,208.3 477.0,208.5 477.5,208.8 C478.0,209.0 478.5,209.2 479.0,209.5 C479.5,209.8 480.0,210.1 480.5,210.4 C481.0,210.7 481.5,211.0 482.0,211.4 C482.5,211.7 483.0,212.1 483.5,212.5 C484.0,212.9 484.5,213.3 485.0,213.8 C485.5,214.2 486.0,214.7 486.5,215.3 C487.0,215.8 487.5,216.4 488.0,217.0 C488.5,217.6 489.0,218.3 489.5,219.0 C490.0,219.8 490.5,220.5 491.0,221.4 C491.5,222.2 492.0,223.1 492.5,224.1 C493.0,225.0 493.5,226.1 494.0,227.2 C494.5,228.3 495.0,229.4 495.5,230.7 C496.0,232.0 496.5,233.3 497.0,234.7 C497.5,236.1 498.0,237.6 498.5,239.2 C499.0,240.8 499.5,242.5 500.0,244.3 C500.5,246.0 501.0,247.9 501.5,249.8 C502.0,251.7 502.5,253.6 503.0,255.6 C503.5,257.6 504.0,259.6 504.5,261.6 C505.0,263.6 505.5,265.6 506.0,267.6 C506.5,269.5 507.0,271.5 507.5,273.3 C508.0,275.1 508.5,276.8 509.0,278.4 C509.5,279.9 510.0,281.4 510.5,282.7 C511.0,284.1 511.5,285.3 512.0,286.3 C512.5,287.3 513.0,288.2 513.5,288.9 C514.0,289.6 514.5,290.2 515.0,290.6 C515.5,290.9 516.0,291.2 516.5,291.2 C517.0,291.2 517.5,291.0 518.0,290.6 C518.5,290.2 519.0,289.7 519.5,289.0 C520.0,288.3 520.5,287.4 521.0,286.5 C521.5,285.6 522.0,284.5 522.5,283.4 C523.0,282.3 523.5,281.1 524.0,279.8 C524.5,278.6 525.0,277.4 525.5,276.1 C526.0,274.9 526.5,273.7 527.0,272.5 C527.5,271.3 528.0,270.1 528.5,269.0 C529.0,267.8 529.5,266.7 530.0,265.6 C530.5,264.5 531.0,263.4 531.5,262.4 C532.0,261.3 532.5,260.2 533.0,259.2 C533.5,258.1 534.0,257.1 534.5,256.1 C535.0,255.1 535.5,254.1 536.0,253.1 C536.5,252.2 537.0,251.3 537.5,250.4 C538.0,249.5 538.5,248.6 539.0,247.8 C539.5,247.0 540.0,246.2 540.5,245.5 C541.0,244.7 541.5,244.0 542.0,243.4 C542.5,242.8 543.0,242.2 543.5,241.6 C544.0,241.0 544.5,240.5 545.0,239.9 C545.5,239.4 546.0,238.9 546.5,238.4 C547.0,237.9 547.5,237.4 548.0,237.0 C548.5,236.5 549.0,236.1 549.5,235.7 C550.0,235.2 550.5,234.8 551.0,234.4 C551.5,234.0 552.0,233.7 552.5,233.3 C553.0,232.9 553.5,232.6 554.0,232.2 C554.5,231.9 555.0,231.5 555.5,231.2 C556.0,230.8 556.5,230.5 557.0,230.2 C557.5,229.9 558.0,229.6 558.5,229.3 C559.0,229.0 559.5,228.7 560.0,228.4 C560.5,228.1 561.0,227.9 561.5,227.6 C562.0,227.3 562.5,227.1 563.0,226.8 C563.5,226.6 564.0,226.3 564.5,226.1 C565.0,225.8 565.5,225.6 566.0,225.4 C566.5,225.2 567.0,224.9 567.5,224.7 C568.0,224.5 568.5,224.3 569.0,224.1 C569.5,223.9 570.0,223.7 570.5,223.5 C571.0,223.3 571.5,223.2 572.0,223.0 C572.5,222.8 573.0,222.6 573.5,222.5 C574.0,222.3 574.5,222.1 575.0,222.0 C575.5,221.8 576.0,221.6 576.5,221.5 C577.0,221.3 577.5,221.2 578.0,221.1 C578.5,220.9 579.0,220.8 579.5,220.6 C580.0,220.5 580.5,220.4 581.0,220.2 C581.5,220.1 582.0,220.0 582.5,219.8 C583.0,219.7 583.5,219.6 584.0,219.5 C584.5,219.3 585.0,219.2 585.5,219.1 C586.0,219.0 586.5,218.9 587.0,218.7 C587.5,218.6 588.0,218.5 588.5,218.4 C589.0,218.3 589.5,218.2 590.0,218.0 C590.5,217.9 591.0,217.8 591.5,217.7 C592.0,217.6 592.5,217.5 593.0,217.4 C593.5,217.2 594.0,217.1 594.5,217.0 C595.0,216.9 595.5,216.8 596.0,216.7 C596.5,216.5 597.0,216.4 597.5,216.3 C598.0,216.2 598.5,216.0 599.0,215.9 C599.5,215.8 600.0,215.7 600.5,215.5 C601.0,215.4 601.5,215.3 602.0,215.1 C602.5,215.0 603.0,214.8 603.5,214.7 C604.0,214.5 604.5,214.4 605.0,214.2 C605.5,214.1 606.0,213.9 606.5,213.8 C607.0,213.6 607.5,213.5 608.0,213.3 C608.5,213.2 609.0,213.0 609.5,212.8 C610.0,212.7 610.5,212.5 611.0,212.3 C611.5,212.2 612.0,212.0 612.5,211.8 C613.0,211.7 613.5,211.5 614.0,211.3 C614.5,211.2 615.0,211.0 615.5,210.8 C616.0,210.7 616.5,210.5 617.0,210.3 C617.5,210.2 618.0,210.0 618.5,209.8 C619.0,209.7 619.5,209.5 620.0,209.4 C620.5,209.2 621.0,209.0 621.5,208.9 C622.0,208.7 622.5,208.6 623.0,208.4 C623.5,208.3 624.0,208.1 624.5,208.0 C625.0,207.8 625.5,207.7 626.0,207.5 C626.5,207.4 627.0,207.2 627.5,207.1 C628.0,207.0 628.5,206.8 629.0,206.7 C629.5,206.6 630.0,206.5 630.5,206.3 C631.0,206.2 631.5,206.1 632.0,206.0 C632.5,205.9 633.0,205.8 633.5,205.7 C634.0,205.6 634.5,205.5 635.0,205.4 C635.5,205.3 636.0,205.2 636.5,205.1 C637.0,205.0 637.5,205.0 638.0,204.9 C638.5,204.8 639.0,204.8 639.5,204.7 C640.0,204.6 640.5,204.6 641.0,204.5 C641.5,204.5 642.0,204.4 642.5,204.4 C643.0,204.3 643.5,204.3 644.0,204.3 C644.5,204.2 645.0,204.2 645.5,204.2 C646.0,204.2 646.5,204.1 647.0,204.1 C647.5,204.1 648.0,204.1 648.5,204.1 C649.0,204.1 649.5,204.1 650.0,204.1 C650.5,204.1 651.0,204.2 651.5,204.2 C652.0,204.2 652.5,204.2 653.0,204.3 C653.5,204.3 654.0,204.3 654.5,204.4 C655.0,204.4 655.5,204.5 656.0,204.5 C656.5,204.6 657.0,204.6 657.5,204.7 C658.0,204.8 658.5,204.8 659.0,204.9 C659.5,205.0 660.0,205.0 660.5,205.1 C661.0,205.2 661.5,205.2 662.0,205.3 C662.5,205.4 663.0,205.5 663.5,205.6 C664.0,205.6 664.5,205.7 665.0,205.8 C665.5,205.9 666.0,206.0 666.5,206.0 C667.0,206.1 667.5,206.2 668.0,206.3 C668.5,206.3 669.0,206.4 669.5,206.5 C670.0,206.6 670.5,206.6 671.0,206.7 C671.5,206.8 672.0,206.9 672.5,206.9 C673.0,207.0 673.5,207.1 674.0,207.1 C674.5,207.2 675.2,207.2 675.5,207.3" fill="none" stroke="#0808f8" stroke-width="2.2" stroke-linejoin="round"/>
<path d="M402.8,353.9 C403.7,354.0 406.5,353.9 408.2,354.2 C409.9,354.4 411.6,354.8 412.9,355.6 C414.2,356.4 415.1,357.3 416.0,358.9 C416.9,360.5 417.7,362.6 418.3,365.2 C419.0,367.8 419.5,371.7 420.0,374.6 C420.4,377.5 420.7,380.4 421.1,382.8 C421.5,385.3 422.0,388.0 422.3,389.4 C422.6,390.8 422.7,391.4 423.0,391.3 C423.3,391.2 423.6,390.7 424.0,388.7 C424.3,386.7 424.6,382.6 424.9,379.3 C425.2,376.0 425.5,371.9 425.8,368.7 C426.2,365.6 426.5,362.9 427.0,360.5 C427.5,358.2 427.9,356.3 428.7,354.6 C429.4,353.0 430.4,351.7 431.7,350.6 C433.0,349.6 434.5,349.0 436.4,348.5 C438.4,348.0 441.9,347.8 443.5,347.6 C445.1,347.4 445.3,347.5 446.0,347.4 C446.7,347.4 447.0,347.3 447.5,347.3 C448.0,347.3 448.5,347.2 449.0,347.2 C449.5,347.2 450.0,347.1 450.5,347.1 C451.0,347.0 451.5,347.0 452.0,347.0 C452.5,346.9 453.0,346.9 453.5,346.8 C454.0,346.8 454.5,346.8 455.0,346.7 C455.5,346.7 456.0,346.7 456.5,346.7 C457.0,346.6 457.5,346.6 458.0,346.6 C458.5,346.6 459.0,346.6 459.5,346.5 C460.0,346.5 460.5,346.5 461.0,346.5 C461.5,346.5 462.0,346.6 462.5,346.6 C463.0,346.6 463.5,346.6 464.0,346.6 C464.5,346.7 465.0,346.7 465.5,346.8 C466.0,346.8 466.5,346.9 467.0,346.9 C467.5,347.0 468.0,347.1 468.5,347.2 C469.0,347.3 469.5,347.4 470.0,347.5 C470.5,347.6 471.0,347.7 471.5,347.8 C472.0,348.0 472.5,348.1 473.0,348.3 C473.5,348.4 474.0,348.6 474.5,348.8 C475.0,349.0 475.5,349.2 476.0,349.4 C476.5,349.6 477.0,349.8 477.5,350.1 C478.0,350.3 478.5,350.6 479.0,350.9 C479.5,351.2 480.0,351.5 480.5,351.9 C481.0,352.2 481.5,352.6 482.0,353.0 C482.5,353.4 483.0,353.8 483.5,354.3 C484.0,354.8 484.5,355.3 485.0,355.8 C485.5,356.4 486.0,357.0 486.5,357.6 C487.0,358.2 487.5,358.9 488.0,359.6 C488.5,360.3 489.0,361.1 489.5,361.9 C490.0,362.7 490.5,363.6 491.0,364.5 C491.5,365.4 492.0,366.4 492.5,367.4 C493.0,368.5 493.5,369.6 494.0,370.8 C494.5,371.9 495.0,373.2 495.5,374.6 C496.0,375.9 496.5,377.3 497.0,378.9 C497.5,380.4 498.0,382.0 498.5,383.8 C499.0,385.5 499.5,387.3 500.0,389.2 C500.5,391.1 501.0,393.0 501.5,395.0 C502.0,396.9 502.5,399.0 503.0,400.9 C503.5,402.9 504.0,405.0 504.5,406.9 C505.0,408.9 505.5,410.8 506.0,412.7 C506.5,414.5 507.0,416.4 507.5,418.0 C508.0,419.7 508.5,421.3 509.0,422.7 C509.5,424.1 510.0,425.4 510.5,426.5 C511.0,427.6 511.5,428.5 512.0,429.3 C512.5,430.0 513.0,430.6 513.5,430.9 C514.0,431.3 514.5,431.5 515.0,431.5 C515.5,431.5 516.0,431.3 516.5,431.0 C517.0,430.7 517.5,430.2 518.0,429.6 C518.5,429.0 519.0,428.2 519.5,427.5 C520.0,426.7 520.5,425.9 521.0,425.0 C521.5,424.2 522.0,423.3 522.5,422.4 C523.0,421.5 523.5,420.6 524.0,419.6 C524.5,418.7 525.0,417.7 525.5,416.7 C526.0,415.7 526.5,414.7 527.0,413.7 C527.5,412.7 528.0,411.7 528.5,410.7 C529.0,409.7 529.5,408.7 530.0,407.6 C530.5,406.6 531.0,405.6 531.5,404.6 C532.0,403.6 532.5,402.6 533.0,401.7 C533.5,400.7 534.0,399.7 534.5,398.8 C535.0,397.9 535.5,397.0 536.0,396.1 C536.5,395.2 537.0,394.3 537.5,393.5 C538.0,392.6 538.5,391.8 539.0,391.0 C539.5,390.2 540.0,389.5 540.5,388.7 C541.0,388.0 541.5,387.2 542.0,386.5 C542.5,385.8 543.0,385.1 543.5,384.4 C544.0,383.8 544.5,383.1 545.0,382.5 C545.5,381.9 546.0,381.3 546.5,380.7 C547.0,380.1 547.5,379.5 548.0,378.9 C548.5,378.4 549.0,377.9 549.5,377.3 C550.0,376.8 550.5,376.3 551.0,375.8 C551.5,375.3 552.0,374.9 552.5,374.4 C553.0,374.0 553.5,373.5 554.0,373.1 C554.5,372.7 555.0,372.3 555.5,371.9 C556.0,371.5 556.5,371.1 557.0,370.7 C557.5,370.4 558.0,370.0 558.5,369.7 C559.0,369.3 559.5,369.0 560.0,368.7 C560.5,368.4 561.0,368.1 561.5,367.8 C562.0,367.5 562.5,367.2 563.0,367.0 C563.5,366.7 564.0,366.4 564.5,366.2 C565.0,366.0 565.5,365.7 566.0,365.5 C566.5,365.3 567.0,365.1 567.5,364.8 C568.0,364.6 568.5,364.4 569.0,364.3 C569.5,364.1 570.0,363.9 570.5,363.7 C571.0,363.5 571.5,363.4 572.0,363.2 C572.5,363.0 573.0,362.9 573.5,362.7 C574.0,362.6 574.5,362.5 575.0,362.3 C575.5,362.2 576.0,362.0 576.5,361.9 C577.0,361.8 577.5,361.7 578.0,361.6 C578.5,361.4 579.0,361.3 579.5,361.2 C580.0,361.1 580.5,361.0 581.0,360.9 C581.5,360.8 582.0,360.7 582.5,360.6 C583.0,360.5 583.5,360.4 584.0,360.3 C584.5,360.2 585.0,360.1 585.5,360.0 C586.0,359.9 586.5,359.8 587.0,359.7 C587.5,359.6 588.0,359.5 588.5,359.4 C589.0,359.3 589.5,359.2 590.0,359.1 C590.5,359.0 591.0,358.9 591.5,358.8 C592.0,358.7 592.5,358.6 593.0,358.5 C593.5,358.4 594.0,358.3 594.5,358.2 C595.0,358.1 595.5,357.9 596.0,357.8 C596.5,357.7 597.0,357.6 597.5,357.4 C598.0,357.3 598.5,357.2 599.0,357.0 C599.5,356.9 600.0,356.7 600.5,356.6 C601.0,356.5 601.5,356.3 602.0,356.2 C602.5,356.0 603.0,355.9 603.5,355.7 C604.0,355.5 604.5,355.4 605.0,355.2 C605.5,355.1 606.0,354.9 606.5,354.8 C607.0,354.6 607.5,354.4 608.0,354.3 C608.5,354.1 609.0,353.9 609.5,353.8 C610.0,353.6 610.5,353.4 611.0,353.3 C611.5,353.1 612.0,352.9 612.5,352.8 C613.0,352.6 613.5,352.4 614.0,352.3 C614.5,352.1 615.0,351.9 615.5,351.7 C616.0,351.6 616.5,351.4 617.0,351.2 C617.5,351.1 618.0,350.9 618.5,350.7 C619.0,350.6 619.5,350.4 620.0,350.3 C620.5,350.1 621.0,349.9 621.5,349.8 C622.0,349.6 622.5,349.5 623.0,349.3 C623.5,349.2 624.0,349.0 624.5,348.9 C625.0,348.7 625.5,348.6 626.0,348.4 C626.5,348.3 627.0,348.1 627.5,348.0 C628.0,347.8 628.5,347.7 629.0,347.6 C629.5,347.4 630.0,347.3 630.5,347.2 C631.0,347.1 631.5,347.0 632.0,346.8 C632.5,346.7 633.0,346.6 633.5,346.5 C634.0,346.4 634.5,346.3 635.0,346.2 C635.5,346.1 636.0,346.0 636.5,345.9 C637.0,345.8 637.5,345.7 638.0,345.7 C638.5,345.6 639.0,345.5 639.5,345.5 C640.0,345.4 640.5,345.3 641.0,345.3 C641.5,345.2 642.0,345.2 642.5,345.1 C643.0,345.1 643.5,345.1 644.0,345.0 C644.5,345.0 645.0,345.0 645.5,345.0 C646.0,344.9 646.5,344.9 647.0,344.9 C647.5,344.9 648.0,344.9 648.5,344.9 C649.0,344.9 649.5,344.9 650.0,344.9 C650.5,344.9 651.0,345.0 651.5,345.0 C652.0,345.0 652.5,345.0 653.0,345.0 C653.5,345.1 654.0,345.1 654.5,345.1 C655.0,345.2 655.5,345.2 656.0,345.2 C656.5,345.3 657.0,345.3 657.5,345.4 C658.0,345.4 658.5,345.4 659.0,345.5 C659.5,345.5 660.0,345.6 660.5,345.6 C661.0,345.7 661.5,345.7 662.0,345.8 C662.5,345.9 663.0,345.9 663.5,346.0 C664.0,346.0 664.5,346.1 665.0,346.1 C665.5,346.2 666.0,346.3 666.5,346.3 C667.0,346.4 667.5,346.4 668.0,346.5 C668.5,346.5 669.0,346.6 669.5,346.7 C670.0,346.7 670.5,346.8 671.0,346.8 C671.5,346.9 672.0,346.9 672.5,347.0 C673.0,347.0 673.5,347.1 674.0,347.1 C674.5,347.2 675.2,347.3 675.5,347.3" fill="none" stroke="#0808f8" stroke-width="2.2" stroke-linejoin="round"/>
<path d="M402.8,519.3 C403.2,518.6 404.4,516.2 405.2,515.3 C406.0,514.4 406.6,513.8 407.5,513.9 C408.4,514.0 409.6,514.5 410.6,515.8 C411.6,517.1 412.6,518.9 413.6,521.6 C414.6,524.4 415.6,528.5 416.4,532.2 C417.3,535.9 418.0,539.7 418.8,544.0 C419.6,548.3 420.4,553.6 421.1,558.1 C421.8,562.6 422.5,567.6 423.0,571.0 C423.5,574.3 423.8,576.5 424.2,578.0 C424.5,579.6 424.8,580.6 425.1,580.4 C425.5,580.2 425.9,579.2 426.3,576.8 C426.7,574.5 427.2,571.0 427.7,566.3 C428.2,561.6 428.8,554.7 429.4,548.7 C429.9,542.6 430.4,535.5 431.0,529.9 C431.6,524.2 432.2,518.9 432.9,514.6 C433.6,510.3 434.4,506.8 435.2,504.0 C436.1,501.2 437.0,499.4 438.1,497.7 C439.1,496.0 440.3,494.9 441.8,493.9 C443.3,493.0 445.3,492.4 447.0,492.0 C448.7,491.7 450.6,491.6 452.1,491.6 C453.7,491.5 455.1,491.7 456.0,491.8 C456.9,491.9 457.0,491.9 457.5,492.1 C458.0,492.2 458.5,492.3 459.0,492.4 C459.5,492.6 460.0,492.7 460.5,492.9 C461.0,493.1 461.5,493.3 462.0,493.5 C462.5,493.7 463.0,493.9 463.5,494.1 C464.0,494.3 464.5,494.6 465.0,494.8 C465.5,495.1 466.0,495.4 466.5,495.6 C467.0,495.9 467.5,496.2 468.0,496.5 C468.5,496.8 469.0,497.1 469.5,497.4 C470.0,497.7 470.5,498.0 471.0,498.3 C471.5,498.7 472.0,499.0 472.5,499.3 C473.0,499.7 473.5,500.0 474.0,500.4 C474.5,500.7 475.0,501.1 475.5,501.5 C476.0,501.9 476.5,502.2 477.0,502.7 C477.5,503.1 478.0,503.5 478.5,504.0 C479.0,504.5 479.5,505.0 480.0,505.6 C480.5,506.1 481.0,506.7 481.5,507.3 C482.0,508.0 482.5,508.6 483.0,509.4 C483.5,510.1 484.0,510.9 484.5,511.7 C485.0,512.6 485.5,513.5 486.0,514.4 C486.5,515.4 487.0,516.4 487.5,517.5 C488.0,518.6 488.5,519.8 489.0,521.1 C489.5,522.3 490.0,523.7 490.5,525.0 C491.0,526.4 491.5,527.8 492.0,529.3 C492.5,530.8 493.0,532.3 493.5,533.8 C494.0,535.4 494.5,536.9 495.0,538.5 C495.5,540.1 496.0,541.7 496.5,543.3 C497.0,544.9 497.5,546.5 498.0,548.1 C498.5,549.6 499.0,551.2 499.5,552.8 C500.0,554.3 500.5,555.8 501.0,557.3 C501.5,558.8 502.0,560.2 502.5,561.6 C503.0,562.9 503.5,564.3 504.0,565.4 C504.5,566.6 505.0,567.7 505.5,568.6 C506.0,569.5 506.5,570.3 507.0,570.8 C507.5,571.4 508.0,571.8 508.5,572.0 C509.0,572.1 509.5,572.1 510.0,571.8 C510.5,571.6 511.0,571.2 511.5,570.6 C512.0,570.1 512.5,569.3 513.0,568.5 C513.5,567.7 514.0,566.8 514.5,565.8 C515.0,564.8 515.5,563.7 516.0,562.7 C516.5,561.6 517.0,560.5 517.5,559.4 C518.0,558.3 518.5,557.1 519.0,556.0 C519.5,554.9 520.0,553.8 520.5,552.7 C521.0,551.5 521.5,550.4 522.0,549.3 C522.5,548.2 523.0,547.1 523.5,546.1 C524.0,545.0 524.5,544.0 525.0,543.0 C525.5,542.0 526.0,541.0 526.5,540.0 C527.0,539.1 527.5,538.2 528.0,537.3 C528.5,536.5 529.0,535.6 529.5,534.9 C530.0,534.1 530.5,533.4 531.0,532.7 C531.5,532.0 532.0,531.3 532.5,530.7 C533.0,530.1 533.5,529.5 534.0,528.9 C534.5,528.4 535.0,527.8 535.5,527.3 C536.0,526.8 536.5,526.4 537.0,525.9 C537.5,525.5 538.0,525.1 538.5,524.7 C539.0,524.3 539.5,524.0 540.0,523.7 C540.5,523.3 541.0,523.0 541.5,522.7 C542.0,522.4 542.5,522.1 543.0,521.9 C543.5,521.6 544.0,521.4 544.5,521.2 C545.0,520.9 545.5,520.7 546.0,520.5 C546.5,520.3 547.0,520.1 547.5,520.0 C548.0,519.8 548.5,519.6 549.0,519.5 C549.5,519.3 550.0,519.1 550.5,519.0 C551.0,518.8 551.5,518.7 552.0,518.5 C552.5,518.4 553.0,518.3 553.5,518.1 C554.0,518.0 554.5,517.9 555.0,517.8 C555.5,517.7 556.0,517.6 556.5,517.5 C557.0,517.4 557.5,517.3 558.0,517.2 C558.5,517.1 559.0,517.1 559.5,517.0 C560.0,517.0 560.5,516.9 561.0,516.9 C561.5,516.9 562.0,516.9 562.5,516.9 C563.0,516.9 563.5,516.9 564.0,516.9 C564.5,517.0 565.0,517.0 565.5,517.1 C566.0,517.1 566.5,517.2 567.0,517.3 C567.5,517.4 568.0,517.5 568.5,517.7 C569.0,517.8 569.5,517.9 570.0,518.1 C570.5,518.3 571.0,518.5 571.5,518.7 C572.0,518.9 572.5,519.2 573.0,519.4 C573.5,519.7 574.0,520.0 574.5,520.2 C575.0,520.5 575.5,520.8 576.0,521.0 C576.5,521.2 577.0,521.4 577.5,521.5 C578.0,521.6 578.5,521.7 579.0,521.6 C579.5,521.6 580.0,521.5 580.5,521.2 C581.0,521.0 581.5,520.6 582.0,520.1 C582.5,519.6 583.0,518.9 583.5,518.2 C584.0,517.5 584.5,516.6 585.0,515.7 C585.5,514.8 586.0,513.8 586.5,512.9 C587.0,511.9 587.5,510.9 588.0,509.9 C588.5,508.9 589.0,507.9 589.5,507.0 C590.0,506.1 590.5,505.2 591.0,504.4 C591.5,503.6 592.0,502.8 592.5,502.1 C593.0,501.4 593.5,500.8 594.0,500.1 C594.5,499.5 595.0,499.0 595.5,498.4 C596.0,497.9 596.5,497.4 597.0,497.0 C597.5,496.5 598.0,496.1 598.5,495.8 C599.0,495.4 599.5,495.0 600.0,494.7 C600.5,494.4 601.0,494.1 601.5,493.8 C602.0,493.5 602.5,493.2 603.0,493.0 C603.5,492.7 604.0,492.5 604.5,492.3 C605.0,492.0 605.5,491.8 606.0,491.6 C606.5,491.4 607.0,491.2 607.5,491.0 C608.0,490.8 608.5,490.6 609.0,490.4 C609.5,490.2 610.0,490.0 610.5,489.9 C611.0,489.7 611.5,489.5 612.0,489.4 C612.5,489.2 613.0,489.1 613.5,488.9 C614.0,488.8 614.5,488.6 615.0,488.5 C615.5,488.3 616.0,488.2 616.5,488.1 C617.0,488.0 617.5,487.8 618.0,487.7 C618.5,487.6 619.0,487.5 619.5,487.4 C620.0,487.3 620.5,487.2 621.0,487.1 C621.5,487.0 622.0,486.9 622.5,486.8 C623.0,486.7 623.5,486.7 624.0,486.6 C624.5,486.5 625.0,486.4 625.5,486.4 C626.0,486.3 626.5,486.2 627.0,486.1 C627.5,486.1 628.0,486.0 628.5,486.0 C629.0,485.9 629.5,485.8 630.0,485.8 C630.5,485.7 631.0,485.7 631.5,485.6 C632.0,485.6 632.5,485.5 633.0,485.5 C633.5,485.5 634.0,485.4 634.5,485.4 C635.0,485.3 635.5,485.3 636.0,485.3 C636.5,485.2 637.0,485.2 637.5,485.1 C638.0,485.1 638.5,485.1 639.0,485.0 C639.5,485.0 640.0,485.0 640.5,485.0 C641.0,484.9 641.5,484.9 642.0,484.9 C642.5,484.9 643.0,484.8 643.5,484.8 C644.0,484.8 644.5,484.8 645.0,484.8 C645.5,484.7 646.0,484.7 646.5,484.7 C647.0,484.7 647.5,484.7 648.0,484.7 C648.5,484.7 649.0,484.7 649.5,484.7 C650.0,484.6 650.5,484.6 651.0,484.6 C651.5,484.6 652.0,484.6 652.5,484.6 C653.0,484.6 653.5,484.6 654.0,484.6 C654.5,484.6 655.0,484.6 655.5,484.7 C656.0,484.7 656.5,484.7 657.0,484.7 C657.5,484.7 658.0,484.7 658.5,484.7 C659.0,484.7 659.5,484.7 660.0,484.8 C660.5,484.8 661.0,484.8 661.5,484.8 C662.0,484.8 662.5,484.8 663.0,484.9 C663.5,484.9 664.0,484.9 664.5,484.9 C665.0,485.0 665.5,485.0 666.0,485.0 C666.5,485.1 667.0,485.1 667.5,485.1 C668.0,485.1 668.5,485.2 669.0,485.2 C669.5,485.2 670.0,485.3 670.5,485.3 C671.0,485.4 671.5,485.4 672.0,485.4 C672.5,485.5 673.0,485.5 673.5,485.6 C674.0,485.6 674.7,485.7 675.0,485.7 C675.3,485.7 675.4,485.8 675.5,485.8" fill="none" stroke="#0808f8" stroke-width="2.2" stroke-linejoin="round"/>
<text class="lb" x="52.8" y="56.9"><tspan class="it">D</tspan> = 0 nm</text>
<text class="lb" x="52.8" y="71.7"><tspan class="it">Q</tspan> <tspan style="font-size:9.5px" dy="-0.6">≃ ∞</tspan></text>
<text class="lb" x="52.8" y="198.7"><tspan class="it">D</tspan> = 30 nm</text>
<text class="lb" x="52.8" y="215.3"><tspan class="it">Q</tspan> = 200</text>
<text class="lb" x="52.8" y="338.7"><tspan class="it">D</tspan> = 40 nm</text>
<text class="lb" x="52.8" y="354.6"><tspan class="it">Q</tspan> = 120</text>
<text class="lb" x="52.8" y="477.0"><tspan class="it">D</tspan> = <tspan style="letter-spacing:-0.55px">11</tspan>0nm</text>
<text class="lb" x="52.8" y="493.5"><tspan class="it">Q</tspan> = 66</text>
<text class="lb" x="608.5" y="152.9"><tspan class="it">D</tspan> = 0 nm</text>
<text class="lb" x="608.5" y="168.1"><tspan class="it">Q</tspan> = <tspan style="font-size:10.5px" dy="-0.3">∞</tspan></text>
<text class="lb" x="608.5" y="294.5"><tspan class="it">D</tspan> = 30 nm</text>
<text class="lb" x="608.5" y="309.8"><tspan class="it">Q</tspan> = 490</text>
<text class="lb" x="608.5" y="433.8"><tspan class="it">D</tspan> = 40 nm</text>
<text class="lb" x="608.5" y="451.0"><tspan class="it">Q</tspan> = 458</text>
<text class="lb" x="608.5" y="574.5"><tspan class="it">D</tspan> = <tspan style="letter-spacing:-0.55px">11</tspan>0 nm</text>
<text class="lb" x="608.5" y="590.2"><tspan class="it">Q</tspan> = 230</text>
<line x1="91.7" y1="113.6" x2="67.1" y2="100.8" stroke="#111" stroke-width="2.0"/>
<path d="M62.8,98.5 L71.7,98.8 L67.4,100.9 L68.1,105.6 Z" fill="#111"/>
<text class="an" x="80.0" y="133.0">BIC</text>
<line x1="118.7" y1="264.4" x2="95.5" y2="251.6" stroke="#111" stroke-width="2.0"/>
<path d="M91.2,249.2 L100.0,249.7 L95.8,251.7 L96.4,256.4 Z" fill="#111"/>
<text class="an" x="75.5" y="284.4">Quasi-BIC</text>
<line x1="138.7" y1="416.2" x2="115.2" y2="403.4" stroke="#111" stroke-width="2.0"/>
<path d="M110.9,401.1 L119.7,401.6 L115.5,403.6 L116.1,408.3 Z" fill="#111"/>
<text class="an" x="92.7" y="435.7">Quasi-BIC</text>
<line x1="168.0" y1="563.5" x2="144.1" y2="550.5" stroke="#111" stroke-width="2.0"/>
<path d="M139.8,548.2 L148.6,548.7 L144.4,550.7 L145.0,555.4 Z" fill="#111"/>
<text class="an" x="122.5" y="584.4">Quasi-BIC</text>
<line x1="444.6" y1="94.1" x2="420.4" y2="81.6" stroke="#111" stroke-width="2.0"/>
<path d="M416.0,79.3 L424.9,79.6 L420.6,81.7 L421.4,86.4 Z" fill="#111"/>
<text class="an" x="448.0" y="107.5">BIC</text>
<line x1="451.7" y1="259.3" x2="427.4" y2="246.7" stroke="#111" stroke-width="2.0"/>
<path d="M423.0,244.5 L431.9,244.8 L427.6,246.9 L428.4,251.5 Z" fill="#111"/>
<text class="an" x="415.8" y="275.0">Quasi-BIC</text>
<line x1="452.1" y1="411.0" x2="427.8" y2="398.0" stroke="#111" stroke-width="2.0"/>
<path d="M423.5,395.7 L432.3,396.1 L428.1,398.2 L428.8,402.8 Z" fill="#111"/>
<text class="an" x="419.3" y="427.5">Quasi-BIC</text>
<line x1="458.3" y1="590.2" x2="434.8" y2="577.5" stroke="#111" stroke-width="2.0"/>
<path d="M430.5,575.2 L439.3,575.7 L435.1,577.7 L435.7,582.3 Z" fill="#111"/>
<text class="an" x="467.5" y="593.8">Quasi-BIC</text>
</svg></body></html>
